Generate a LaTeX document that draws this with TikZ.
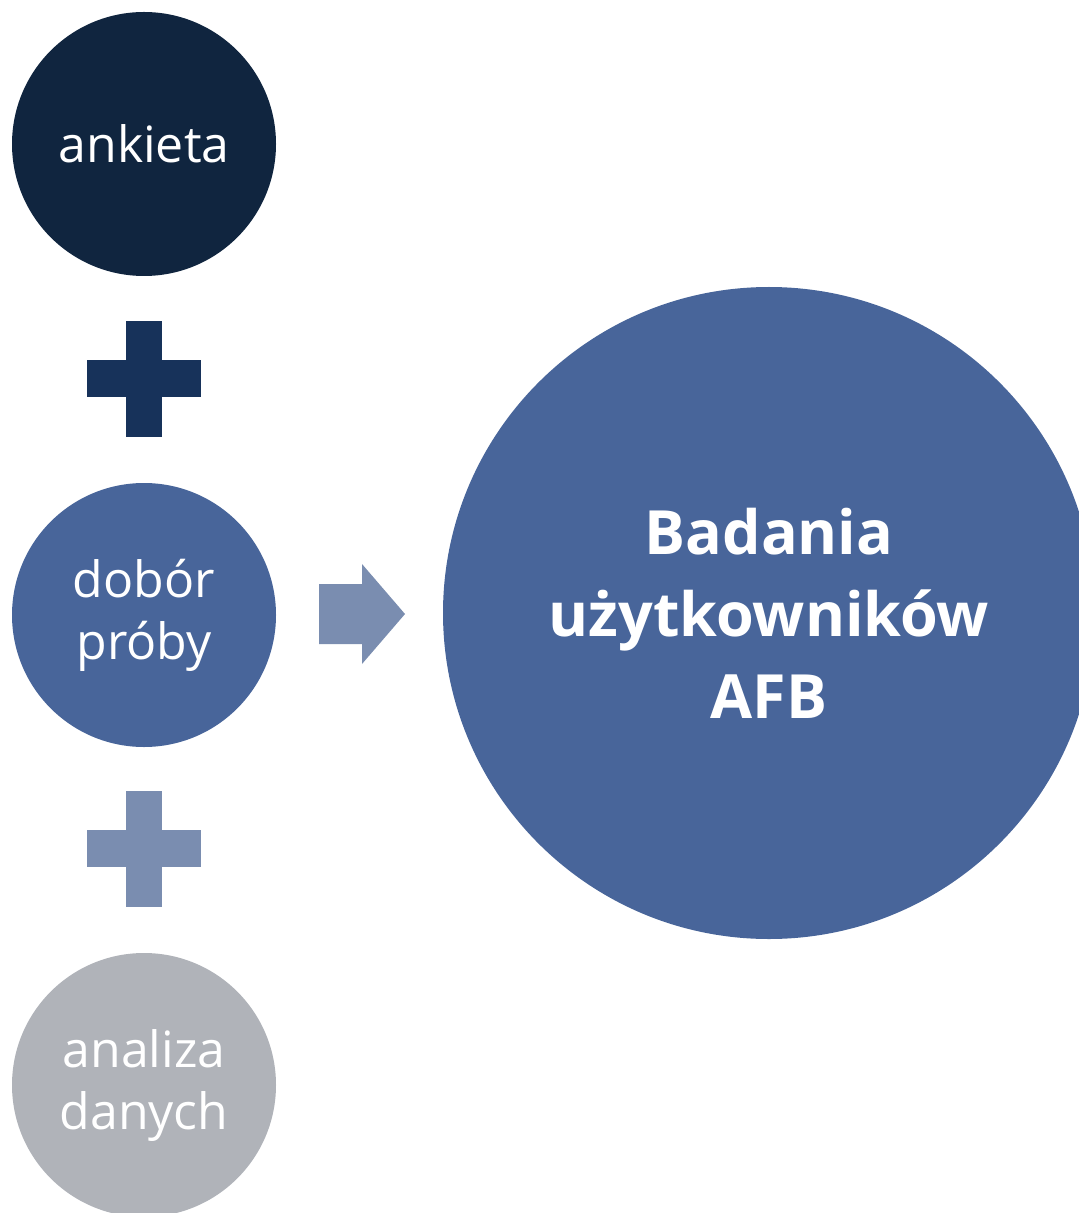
\documentclass[tikz,border=0pt]{standalone}
\usepackage{fontspec}
\setmainfont{Open Sans}
\usetikzlibrary{calc}
\definecolor{navy}{HTML}{10253F}
\definecolor{navyplus}{HTML}{17325A}
\definecolor{midblue}{HTML}{48659A}
\definecolor{paleblue}{HTML}{7A8DB0}
\definecolor{greyc}{HTML}{B0B3B9}
\tikzset{
  px/.style={x=0.5pt,y=-0.5pt},
  smallcirc/.style={circle,minimum size=132pt,inner sep=0pt,text=white,
    align=center,font=\fontsize{25}{31}\selectfont},
  bigcirc/.style={circle,minimum size=326pt,inner sep=0pt,text=white,
    align=center,font=\fontsize{30.5}{41}\selectfont\bfseries},
}
\newcommand{\plussign}[2]{%
  \fill[#2] ($#1+(-18,-58)$) rectangle ($#1+(18,58)$);
  \fill[#2] ($#1+(-57,-19)$) rectangle ($#1+(57,18)$);
}
\begin{document}
\begin{tikzpicture}[px]
  \useasboundingbox (0,0) rectangle (1079,1213);
  \clip (0,0) rectangle (1079,1213);
  % left column of steps
  \node[smallcirc,fill=navy] (ank) at (144,144) {ankieta};
  \node[smallcirc,fill=midblue] (dob) at (144,615) {dobór\\próby};
  \node[smallcirc,fill=greyc] (ana) at (144,1085) {analiza\\danych};
  % plus signs between the steps
  \coordinate (p1) at (144,379);
  \coordinate (p2) at (144,849);
  \plussign{(p1)}{navyplus}
  \plussign{(p2)}{paleblue}
  % result
  \node[bigcirc,fill=midblue] (res) at (769,613) {Badania\\użytkowników\\AFB};
  % arrow toward the result
  \fill[paleblue] (319,584) -- (362,584) -- (362,564) -- (405,614)
    -- (362,664) -- (362,644) -- (319,644) -- cycle;
\end{tikzpicture}
\end{document}
